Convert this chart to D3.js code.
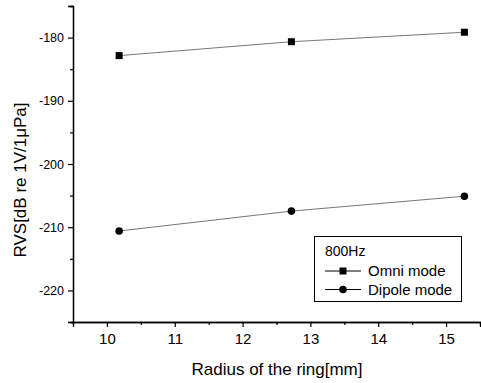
<!DOCTYPE html>
<html><head><meta charset="utf-8">
<script src="https://cdn.jsdelivr.net/npm/d3@7"></script>
<style>body{margin:0;background:#fff}svg{display:block}text{font-family:"Liberation Sans",Arial,sans-serif}</style>
</head><body><svg id="c" width="481" height="383"></svg>
<script>
const radius = [10.18, 12.72, 15.27];
const omni = [-182.85, -180.65, -179.15];
const dipole = [-210.6, -207.45, -205.1];
const xTicks = [10, 11, 12, 13, 14, 15];
const yTicks = [-220, -210, -200, -190, -180];
const legendTitle = "800Hz";
const seriesNames = ["Omni mode", "Dipole mode"];

const svg = d3.select("#c");
const x = d3.scaleLinear().domain([9.5, 15.5]).range([73, 480]);
const y = d3.scaleLinear().domain([-225, -175]).range([322, 6]);

// axes
const xAxis = svg.append("g").attr("transform", "translate(0,322)")
  .call(d3.axisBottom(x).tickValues(xTicks).tickFormat(d3.format("d")).tickSize(5).tickPadding(6));
const xMinor = svg.append("g").attr("transform", "translate(0,322)")
  .call(d3.axisBottom(x).tickValues(d3.range(10.5, 15.5, 1)).tickSize(3).tickFormat(""));
const yAxis = svg.append("g").attr("transform", "translate(73,0)")
  .call(d3.axisLeft(y).tickValues(yTicks).tickFormat(d => d3.format("d")(d).replace("−","-")).tickSize(5).tickPadding(4));
const yMinor = svg.append("g").attr("transform", "translate(73,0)")
  .call(d3.axisLeft(y).tickValues([-225,-215,-205,-195,-185,-175]).tickSize(3).tickFormat(""));
[xAxis, xMinor, yAxis, yMinor].forEach(g => {
  g.select(".domain").attr("stroke", "#000").attr("stroke-width", 1.3);
  g.selectAll(".tick line").attr("stroke", "#000").attr("stroke-width", 1.2);
});
xAxis.selectAll("text").attr("font-size", 15).attr("fill", "#000");
yAxis.selectAll("text").attr("font-size", 12.5).attr("fill", "#000");

// titles
svg.append("text").attr("x", 277).attr("y", 375).attr("text-anchor", "middle")
  .attr("font-size", 17).text("Radius of the ring[mm]");
svg.append("text").attr("transform", "translate(26,180) rotate(-90)").attr("text-anchor", "middle")
  .attr("font-size", 17).text("RVS[dB re 1V/1μPa]");

const line = d3.line().x(d => x(d[0])).y(d => y(d[1]));
const omniPts = radius.map((r, i) => [r, omni[i]]);
const dipPts = radius.map((r, i) => [r, dipole[i]]);
[omniPts, dipPts].forEach(p => svg.append("path").attr("d", line(p))
  .attr("fill", "none").attr("stroke", "#777").attr("stroke-width", 1));
svg.selectAll(".sq").data(omniPts).enter().append("rect")
  .attr("x", d => x(d[0]) - 3.5).attr("y", d => y(d[1]) - 3.5)
  .attr("width", 7).attr("height", 7).attr("fill", "#000");
svg.selectAll(".ci").data(dipPts).enter().append("circle")
  .attr("cx", d => x(d[0])).attr("cy", d => y(d[1])).attr("r", 3.8).attr("fill", "#000");

// legend
const lg = svg.append("g");
lg.append("rect").attr("x", 314.5).attr("y", 236.5).attr("width", 147).attr("height", 65)
  .attr("fill", "#fff").attr("stroke", "#000").attr("stroke-width", 1);
lg.append("text").attr("x", 325).attr("y", 256).attr("font-size", 14).text(legendTitle);
seriesNames.forEach((n, i) => {
  const cy = 271 + i * 18.5;
  lg.append("line").attr("x1", 325).attr("x2", 361).attr("y1", cy).attr("y2", cy).attr("stroke", "#000");
  if (i === 0) lg.append("rect").attr("x", 343 - 3.5).attr("y", cy - 3.5).attr("width", 7).attr("height", 7).attr("fill", "#000");
  else lg.append("circle").attr("cx", 343).attr("cy", cy).attr("r", 3.8).attr("fill", "#000");
  lg.append("text").attr("x", 368).attr("y", cy + 5).attr("font-size", 15).text(n);
});
</script></body></html>
